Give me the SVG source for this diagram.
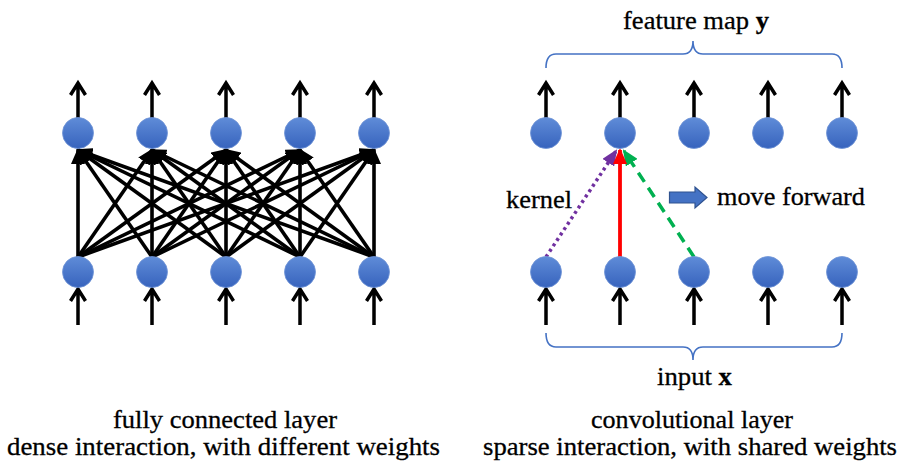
<svg xmlns="http://www.w3.org/2000/svg" width="900" height="464" viewBox="0 0 900 464">
<defs>
<linearGradient id="ng" x1="0" y1="0" x2="0" y2="1">
<stop offset="0" stop-color="#5F8CD8"/>
<stop offset="1" stop-color="#3763BD"/>
</linearGradient>
<marker id="ah" markerWidth="16" markerHeight="14" viewBox="0 0 16 14" refX="14" refY="7" orient="auto" markerUnits="userSpaceOnUse">
<path d="M0,0 L16,7 L0,14 Z" fill="#000"/>
</marker>
<marker id="ahr" markerWidth="16" markerHeight="14" viewBox="0 0 16 14" refX="14" refY="7" orient="auto" markerUnits="userSpaceOnUse">
<path d="M0,0 L16,7 L0,14 Z" fill="#FF0000"/>
</marker>
<marker id="ahp" markerWidth="16" markerHeight="14" viewBox="0 0 16 14" refX="14" refY="7" orient="auto" markerUnits="userSpaceOnUse">
<path d="M0,0 L16,7 L0,14 Z" fill="#7030A0"/>
</marker>
<marker id="ahg" markerWidth="16" markerHeight="14" viewBox="0 0 16 14" refX="14" refY="7" orient="auto" markerUnits="userSpaceOnUse">
<path d="M0,0 L16,7 L0,14 Z" fill="#00B050"/>
</marker>
</defs>
<style>
.n{fill:url(#ng);stroke:#6E93D6;stroke-width:0.8}
.e{stroke:#000;stroke-width:3.6;fill:none;marker-end:url(#ah)}
.up{stroke:#000;stroke-width:3.5;fill:none;stroke-linejoin:miter}
.t{font-family:"Liberation Serif","Times New Roman",serif;font-size:26px;fill:#000;stroke:#000;stroke-width:0.3}
.br{stroke:#4472C4;stroke-width:1.6;fill:none}
</style>
<rect width="900" height="464" fill="#fff"/>

<g id="connectors">
<g id="fc-edges">
<line class="e" x1="78" y1="257" x2="78" y2="150"/>
<line class="e" x1="78" y1="257" x2="152" y2="150"/>
<line class="e" x1="78" y1="257" x2="226" y2="150"/>
<line class="e" x1="78" y1="257" x2="300" y2="150"/>
<line class="e" x1="78" y1="257" x2="374" y2="150"/>
<line class="e" x1="152" y1="257" x2="78" y2="150"/>
<line class="e" x1="152" y1="257" x2="152" y2="150"/>
<line class="e" x1="152" y1="257" x2="226" y2="150"/>
<line class="e" x1="152" y1="257" x2="300" y2="150"/>
<line class="e" x1="152" y1="257" x2="374" y2="150"/>
<line class="e" x1="226" y1="257" x2="78" y2="150"/>
<line class="e" x1="226" y1="257" x2="152" y2="150"/>
<line class="e" x1="226" y1="257" x2="226" y2="150"/>
<line class="e" x1="226" y1="257" x2="300" y2="150"/>
<line class="e" x1="226" y1="257" x2="374" y2="150"/>
<line class="e" x1="300" y1="257" x2="78" y2="150"/>
<line class="e" x1="300" y1="257" x2="152" y2="150"/>
<line class="e" x1="300" y1="257" x2="226" y2="150"/>
<line class="e" x1="300" y1="257" x2="300" y2="150"/>
<line class="e" x1="300" y1="257" x2="374" y2="150"/>
<line class="e" x1="374" y1="257" x2="78" y2="150"/>
<line class="e" x1="374" y1="257" x2="152" y2="150"/>
<line class="e" x1="374" y1="257" x2="226" y2="150"/>
<line class="e" x1="374" y1="257" x2="300" y2="150"/>
<line class="e" x1="374" y1="257" x2="374" y2="150"/>
</g>
<g id="io-arrows">
<path class="up" d="M78,118 V83 M70.5,95 L78,83 L85.5,95"/>
<path class="up" d="M152,118 V83 M144.5,95 L152,83 L159.5,95"/>
<path class="up" d="M226,118 V83 M218.5,95 L226,83 L233.5,95"/>
<path class="up" d="M300,118 V83 M292.5,95 L300,83 L307.5,95"/>
<path class="up" d="M374,118 V83 M366.5,95 L374,83 L381.5,95"/>
<path class="up" d="M78,325 V289 M70.5,301 L78,289 L85.5,301"/>
<path class="up" d="M152,325 V289 M144.5,301 L152,289 L159.5,301"/>
<path class="up" d="M226,325 V289 M218.5,301 L226,289 L233.5,301"/>
<path class="up" d="M300,325 V289 M292.5,301 L300,289 L307.5,301"/>
<path class="up" d="M374,325 V289 M366.5,301 L374,289 L381.5,301"/>
<path class="up" d="M546,118 V83 M538.5,95 L546,83 L553.5,95"/>
<path class="up" d="M620,118 V83 M612.5,95 L620,83 L627.5,95"/>
<path class="up" d="M694,118 V83 M686.5,95 L694,83 L701.5,95"/>
<path class="up" d="M768,118 V83 M760.5,95 L768,83 L775.5,95"/>
<path class="up" d="M842,118 V83 M834.5,95 L842,83 L849.5,95"/>
<path class="up" d="M546,325 V289 M538.5,301 L546,289 L553.5,301"/>
<path class="up" d="M620,325 V289 M612.5,301 L620,289 L627.5,301"/>
<path class="up" d="M694,325 V289 M686.5,301 L694,289 L701.5,301"/>
<path class="up" d="M768,325 V289 M760.5,301 L768,289 L775.5,301"/>
<path class="up" d="M842,325 V289 M834.5,301 L842,289 L849.5,301"/>
</g>
<g id="kernel-edges">
<line x1="546" y1="257" x2="616" y2="151" stroke="#7030A0" stroke-width="3.5" stroke-dasharray="3 3.5" marker-end="url(#ahp)"/>
<line x1="694" y1="257" x2="624" y2="151" stroke="#00B050" stroke-width="3.5" stroke-dasharray="11 7" marker-end="url(#ahg)"/>
<line x1="620" y1="257" x2="620" y2="150" stroke="#FF0000" stroke-width="3.8" marker-end="url(#ahr)"/>
</g>
</g>

<g id="fc-top">
<circle id="fc-t1" class="n" cx="78" cy="133" r="15.5"/>
<circle id="fc-t2" class="n" cx="152" cy="133" r="15.5"/>
<circle id="fc-t3" class="n" cx="226" cy="133" r="15.5"/>
<circle id="fc-t4" class="n" cx="300" cy="133" r="15.5"/>
<circle id="fc-t5" class="n" cx="374" cy="133" r="15.5"/>
</g>
<g id="fc-bottom">
<circle id="fc-b1" class="n" cx="78" cy="272" r="15.5"/>
<circle id="fc-b2" class="n" cx="152" cy="272" r="15.5"/>
<circle id="fc-b3" class="n" cx="226" cy="272" r="15.5"/>
<circle id="fc-b4" class="n" cx="300" cy="272" r="15.5"/>
<circle id="fc-b5" class="n" cx="374" cy="272" r="15.5"/>
</g>
<g id="cv-top">
<circle id="cv-t1" class="n" cx="546" cy="133" r="15.5"/>
<circle id="cv-t2" class="n" cx="620" cy="133" r="15.5"/>
<circle id="cv-t3" class="n" cx="694" cy="133" r="15.5"/>
<circle id="cv-t4" class="n" cx="768" cy="133" r="15.5"/>
<circle id="cv-t5" class="n" cx="842" cy="133" r="15.5"/>
</g>
<g id="cv-bottom">
<circle id="cv-b1" class="n" cx="546" cy="272" r="15.5"/>
<circle id="cv-b2" class="n" cx="620" cy="272" r="15.5"/>
<circle id="cv-b3" class="n" cx="694" cy="272" r="15.5"/>
<circle id="cv-b4" class="n" cx="768" cy="272" r="15.5"/>
<circle id="cv-b5" class="n" cx="842" cy="272" r="15.5"/>
</g>

<g id="move-forward">
<path d="M669.5,192 H695 V187 L707,197.5 L695,208 V203 H669.5 Z" fill="#4472C4" stroke="#2F528F" stroke-width="1.2"/>
<text class="t" x="717" y="205" textLength="148" lengthAdjust="spacingAndGlyphs">move forward</text>
</g>

<g id="kernel-label">
<text class="t" x="506" y="208" textLength="66" lengthAdjust="spacingAndGlyphs">kernel</text>
</g>

<g id="feature-map">
<path class="br" d="M546,68 Q546,54 556,54 L683,54 Q693,54 693,41 Q693,54 703,54 L832,54 Q842,54 842,68"/>
<text class="t" x="623" y="29" textLength="146" lengthAdjust="spacingAndGlyphs">feature map <tspan font-weight="bold">y</tspan></text>
</g>

<g id="input">
<path class="br" d="M546,333 Q546,347 556,347 L683,347 Q693,347 693,360 Q693,347 703,347 L832,347 Q842,347 842,333"/>
<text class="t" x="657" y="385" textLength="75" lengthAdjust="spacingAndGlyphs">input <tspan font-weight="bold">x</tspan></text>
</g>

<g id="captions">
<text class="t" x="113" y="428" textLength="224" lengthAdjust="spacingAndGlyphs">fully connected layer</text>
<text class="t" x="7" y="455" textLength="433" lengthAdjust="spacingAndGlyphs">dense interaction, with different weights</text>
<text class="t" x="591" y="428" textLength="202" lengthAdjust="spacingAndGlyphs">convolutional layer</text>
<text class="t" x="483" y="455" textLength="414" lengthAdjust="spacingAndGlyphs">sparse interaction, with shared weights</text>
</g>
</svg>
